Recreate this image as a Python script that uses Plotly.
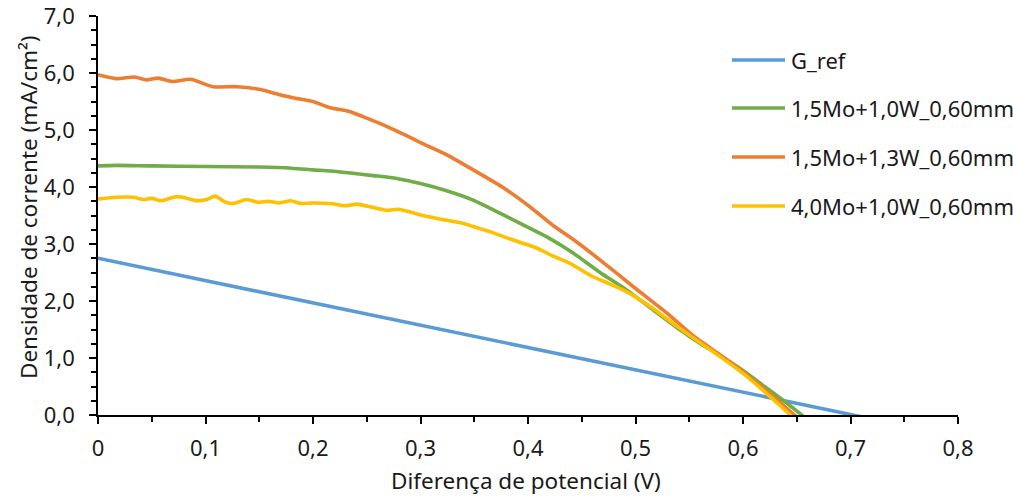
import plotly.graph_objects as go

# ---- data ----
x_ref = [0, 0.1, 0.2, 0.3, 0.4, 0.5, 0.6, 0.7, 0.71]
y_ref = [2.75, 2.36, 1.97, 1.58, 1.18, 0.79, 0.40, 0.01, -0.03]

x_g = [0, 0.017, 0.05, 0.1, 0.15, 0.18, 0.2, 0.216, 0.237, 0.256, 0.278, 0.30, 0.325, 0.349,
       0.374, 0.395, 0.418, 0.442, 0.467, 0.492, 0.516, 0.541, 0.563, 0.579, 0.60, 0.62, 0.64, 0.656]
y_g = [4.37, 4.38, 4.37, 4.36, 4.35, 4.33, 4.30, 4.28, 4.24, 4.20, 4.15, 4.06, 3.93, 3.77,
       3.54, 3.34, 3.12, 2.84, 2.50, 2.19, 1.85, 1.50, 1.22, 1.04, 0.78, 0.50, 0.22, -0.02]

x_o = [0, 0.017, 0.034, 0.045, 0.056, 0.069, 0.086, 0.107, 0.129, 0.151, 0.169, 0.186, 0.2,
       0.216, 0.233, 0.247, 0.269, 0.287, 0.30, 0.325, 0.349, 0.376, 0.402, 0.423, 0.445, 0.473,
       0.498, 0.529, 0.553, 0.579, 0.60, 0.62, 0.64, 0.649]
y_o = [5.97, 5.90, 5.93, 5.88, 5.91, 5.85, 5.89, 5.76, 5.76, 5.71, 5.62, 5.55, 5.50,
       5.39, 5.33, 5.23, 5.06, 4.90, 4.78, 4.56, 4.30, 4.00, 3.65, 3.33, 3.04, 2.63,
       2.25, 1.79, 1.40, 1.05, 0.76, 0.45, 0.13, -0.02]

x_y = [0, 0.017, 0.033, 0.042, 0.05, 0.059, 0.072, 0.079, 0.092, 0.101, 0.109, 0.118, 0.126,
       0.138, 0.149, 0.158, 0.169, 0.179, 0.189, 0.2, 0.216, 0.23, 0.241, 0.256, 0.269, 0.279,
       0.293, 0.30, 0.318, 0.34, 0.355, 0.367, 0.38, 0.408, 0.423, 0.439, 0.46, 0.476, 0.492,
       0.514, 0.539, 0.563, 0.579, 0.60, 0.62, 0.64, 0.645]
y_y = [3.79, 3.82, 3.82, 3.78, 3.80, 3.76, 3.83, 3.82, 3.76, 3.78, 3.84, 3.74, 3.71,
       3.78, 3.73, 3.75, 3.72, 3.76, 3.71, 3.72, 3.71, 3.67, 3.70, 3.64, 3.59, 3.61,
       3.55, 3.51, 3.44, 3.36, 3.27, 3.20, 3.11, 2.93, 2.79, 2.66, 2.43, 2.30, 2.16,
       1.90, 1.55, 1.23, 1.02, 0.73, 0.41, 0.07, -0.02]

names = ["G_ref", "1,5Mo+1,0W_0,60mm", "1,5Mo+1,3W_0,60mm", "4,0Mo+1,0W_0,60mm"]
colors = ["#5B9BD5", "#70AD47", "#ED7D31", "#FFC000"]

x_tickvals = [0, 0.1, 0.2, 0.3, 0.4, 0.5, 0.6, 0.7, 0.8]
x_ticktext = ["0", "0,1", "0,2", "0,3", "0,4", "0,5", "0,6", "0,7", "0,8"]
y_tickvals = [0, 1, 2, 3, 4, 5, 6, 7]
y_ticktext = ["0,0", "1,0", "2,0", "3,0", "4,0", "5,0", "6,0", "7,0"]
x_title = "Diferença de potencial (V)"
y_title = "Densidade de corrente (mA/cm²)"

FONT = "Noto Sans"
TXT = "#1a1a1a"
LW = 3.6
fig = go.Figure()
series = [(x_ref, y_ref, "linear"), (x_g, y_g, "spline"), (x_o, y_o, "spline"), (x_y, y_y, "spline")]
for (xs, ys, shp), nm, c in zip(series, names, colors):
    fig.add_trace(go.Scatter(x=xs, y=ys, mode="lines", name=nm, showlegend=False,
                             line=dict(color=c, width=LW, shape=shp, smoothing=0.6)))

# manual legend
L, R, T, B = 98, 958, 16, 415
W, H = R - L, B - T
leg_y = [60, 108, 157, 206]
for nm, c, py in zip(names, colors, leg_y):
    yp = (B - py) / H
    fig.add_shape(type="line", xref="paper", yref="paper",
                  x0=(732 - L) / W, x1=(785 - L) / W, y0=yp, y1=yp,
                  line=dict(color=c, width=LW))
    fig.add_annotation(xref="paper", yref="paper", x=(789 - L) / W, y=yp, text=nm,
                       showarrow=False, xanchor="left", yanchor="middle",
                       font=dict(family=FONT, size=22, color=TXT))

# axis titles
fig.add_annotation(xref="paper", yref="paper", x=(526 - L) / W, y=(B - 480) / H, text=x_title,
                   showarrow=False, xanchor="center", yanchor="middle",
                   font=dict(family=FONT, size=22.5, color=TXT))
fig.add_annotation(xref="paper", yref="paper", x=(28 - L) / W, y=(B - 207) / H, text=y_title,
                   showarrow=False, xanchor="center", yanchor="middle", textangle=-90,
                   font=dict(family=FONT, size=22.5, color=TXT))

axis_common = dict(showline=True, linecolor="black", linewidth=1.5, showgrid=False,
                   zeroline=False, ticks="outside", tickcolor="black", ticklen=7, tickwidth=1.5,
                   automargin=False, ticklabeloverflow="allow",
                   tickfont=dict(family=FONT, size=22, color=TXT))
fig.update_xaxes(range=[0, 0.8], tickvals=x_tickvals, ticktext=x_ticktext, ticklabelstandoff=6,
                 minor=dict(dtick=0.05, ticks="outside", ticklen=5, tickcolor="black", showgrid=False),
                 **axis_common)
fig.update_yaxes(range=[0, 7], tickvals=y_tickvals, ticktext=y_ticktext, ticklabelstandoff=10,
                 minor=dict(dtick=0.25, ticks="outside", ticklen=5, tickcolor="black", showgrid=False),
                 **axis_common)
fig.update_layout(width=1013, height=497, margin=dict(l=L, r=1013 - R, t=T, b=497 - B),
                  plot_bgcolor="white", paper_bgcolor="white", font=dict(family=FONT))
fig.write_html("out.html")
